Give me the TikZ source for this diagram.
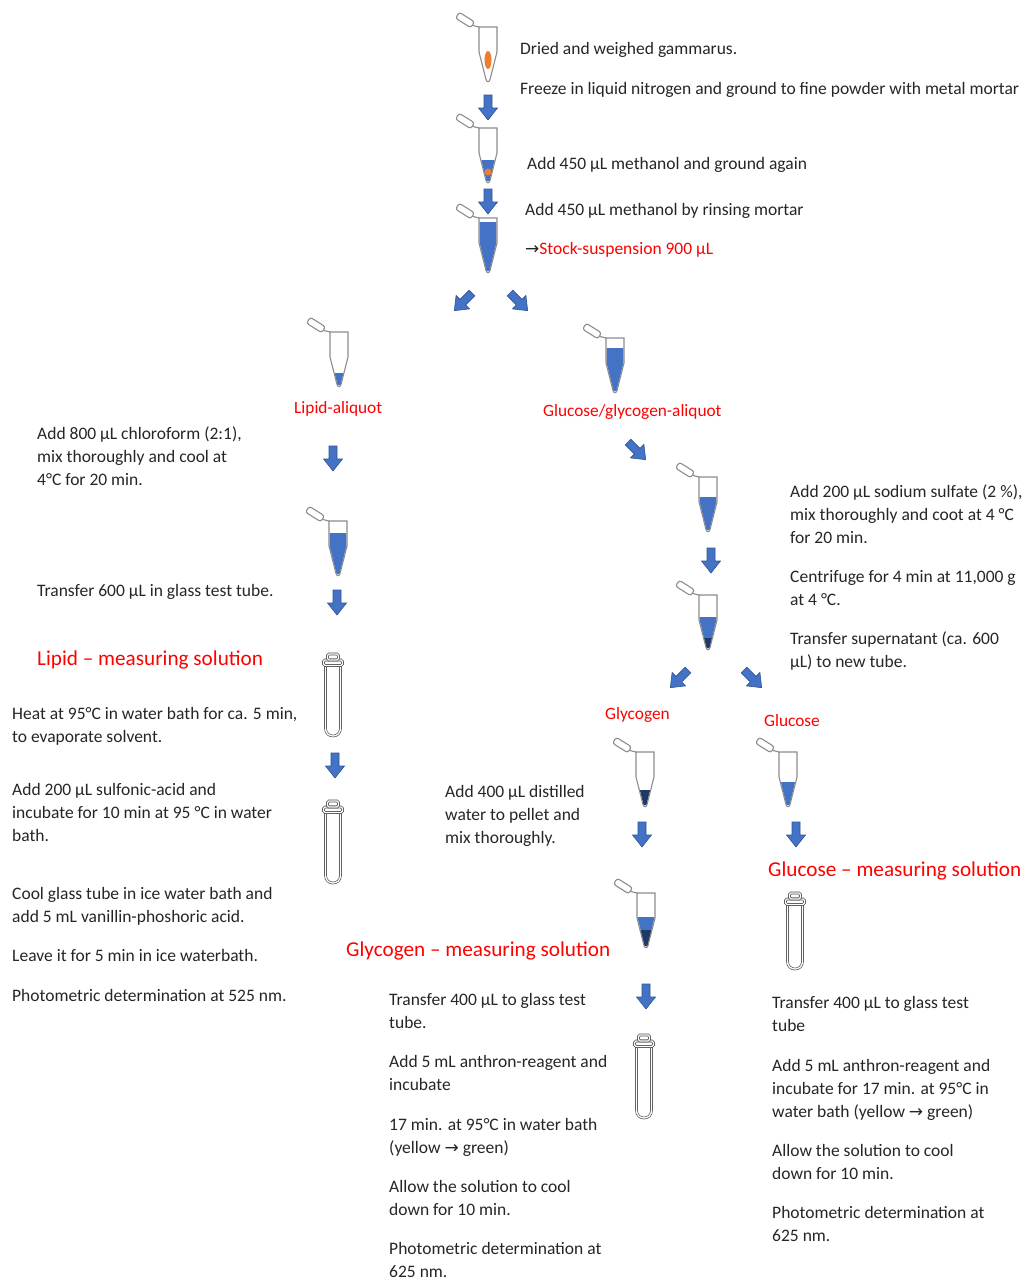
\documentclass[tikz,border=0pt]{standalone}
\usepackage{fontspec}
\setmainfont{Carlito}
\newfontfamily\arrowsym{DejaVu Sans}

\definecolor{liquid}{HTML}{4472C4}
\definecolor{liquidedge}{HTML}{2F5597}
\definecolor{pelletcol}{HTML}{203864}
\definecolor{seedcol}{HTML}{ED7D31}
\definecolor{redtxt}{HTML}{FF0000}
\definecolor{inkcol}{HTML}{262626}

% micro-centrifuge tube: #1 rim centre, #2 liquid level, #3 pellet level, #4 extra content
\newcommand\eppendorf[4]{%
  \begin{scope}[shift={#1}]
    \begin{scope}
      \clip (-8.4,0) -- (-8.4,25) -- (-1.5,53) -- (1.5,53) -- (8.4,25) -- (8.4,0) -- cycle;
      \fill[liquid] (-10,#2) rectangle (10,58);
      \fill[pelletcol] (-10,#3) rectangle (10,58);
    \end{scope}
    #4
    \draw[tubeline] (-9,0) -- (-9,25) -- (-2,52.5) .. controls (-1,55.5) and (1,55.5) .. (2,52.5) -- (9,25) -- (9,0) -- cycle;
    \draw[tubeline] (-9,0) -- (-15,-1.5);
    \draw[tubeline, rounded corners=2.5, rotate around={-32:(-23,-7)}] (-32,-10.5) rectangle (-14,-3.5);
  \end{scope}}

% glass test tube: #1 top centre, #2 length
\newcommand\glasstube[2]{%
  \begin{scope}[shift={#1}]
    \draw[glassline] (-7.5,11.5) -- (-7.5,#2-7.5) .. controls (-7.5,#2+2.5) and (7.5,#2+2.5) .. (7.5,#2-7.5) -- (7.5,11.5);
    \draw[glassline, rounded corners=1.5] (-9.5,6) rectangle (9.5,11.5);
    \draw[glassline, rounded corners=1.5] (-5.5,0) rectangle (5.5,6);
  \end{scope}}

% thick blue block arrow: #1 tail centre, #2 rotation
\newcommand\blockarrow[2]{%
  \fill[liquid, draw=liquidedge, line width=0.6, shift={#1}, rotate=#2]
    (-4,0) -- (4,0) -- (4,13) -- (9.5,13) -- (0,25) -- (-9.5,13) -- (-4,13) -- cycle;}

\newcommand\rarr{{\arrowsym\fontsize{17}{23}\selectfont →}}

\begin{document}
\begin{tikzpicture}[x=1pt,y=-1pt,
  tubeline/.style={draw=black!45, line width=1.1},
  glassline/.style={draw=black!70, line width=0.65, double=white, double distance=1.3},
  txt/.style={anchor=base west, inner sep=0pt, align=left, text=inkcol,
    font=\fontsize{17.5}{23}\selectfont},
  redlabel/.style={txt, text=redtxt, font=\fontsize{17.3}{23}\selectfont},
  redhead/.style={txt, text=redtxt, font=\fontsize{21.2}{23}\selectfont}]

\fill[white] (0,0) rectangle (1032,1282);
\useasboundingbox (0,0) rectangle (1032,1282);

% multi-line labels are placed by the baseline of their last line

% ---------------- common start ----------------
\eppendorf{(488,27)}{60}{60}{\fill[seedcol] (0,33) ellipse[x radius=3.5, y radius=9];}
\blockarrow{(488,95)}{0}
\eppendorf{(488,128)}{32}{60}{\fill[seedcol] (0,44) circle[radius=3.5];}
\blockarrow{(488,189)}{0}
\eppendorf{(488,218)}{4}{60}{}

\node[txt] (dried) at (520,54) {Dried and weighed gammarus.};
\node[txt] (freeze) at (520,94) {Freeze in liquid nitrogen and ground to fine powder with metal mortar};
\node[txt] (meth1) at (527,169) {Add 450 µL methanol and ground again};
\node[txt] (meth2) at (525,215) {Add 450 µL methanol by rinsing mortar};
\node[txt] (stock) at (525,254) {\rarr\textcolor{redtxt}{Stock-suspension 900 µL}};

\blockarrow{(472,293)}{-45}
\blockarrow{(510,293)}{45}

% ---------------- lipid branch ----------------
\eppendorf{(339,332)}{41}{60}{}
\node[redlabel] (lipidaliquot) at (294,413) {Lipid-aliquot};
\node[txt] (chloro) at (37,485) {Add 800 µL chloroform (2:1),\\mix thoroughly and cool at\\4°C for 20 min.};
\blockarrow{(333,446)}{0}
\eppendorf{(338,521)}{12}{60}{}
\node[txt] (transfer600) at (37,596) {Transfer 600 µL in glass test tube.};
\blockarrow{(337,590)}{0}
\node[redhead] (lipidhead) at (37,665) {Lipid – measuring solution};
\glasstube{(333,654)}{82}
\node[txt] (heat) at (12,742) {Heat at 95°C in water bath for ca. 5 min,\\to evaporate solvent.};
\blockarrow{(335,753)}{0}
\glasstube{(333,801)}{82}
\node[txt] (sulfonic) at (12,841) {Add 200 µL sulfonic-acid and\\incubate for 10 min at 95 °C in water\\bath.};
\node[txt] (cool) at (12,922) {Cool glass tube in ice water bath and\\add 5 mL vanillin-phoshoric acid.};
\node[txt] (leave) at (12,961) {Leave it for 5 min in ice waterbath.};
\node[txt] (photo525) at (12,1001) {Photometric determination at 525 nm.};

% ---------------- glucose / glycogen branch ----------------
\eppendorf{(615,338)}{10}{60}{}
\node[redlabel] (glualiquot) at (543,416) {Glucose/glycogen-aliquot};
\blockarrow{(628,442)}{45}
\eppendorf{(708,477)}{20}{60}{}
\node[txt] (sulfate) at (790,543) {Add 200 µL sodium sulfate (2 \%),\\mix thoroughly and coot at 4 °C\\for 20 min.};
\blockarrow{(711,548)}{0}
\eppendorf{(708,595)}{22}{43}{}
\node[txt] (centri) at (790,605) {Centrifuge for 4 min at 11,000 g\\at 4 °C.};
\node[txt] (super) at (790,667) {Transfer supernatant (ca. 600\\µL) to new tube.};
\blockarrow{(688,670)}{-45}
\blockarrow{(744,670)}{45}

% glycogen
\node[redlabel] (glyco) at (605,719) {Glycogen};
\eppendorf{(645,752)}{60}{38}{}
\node[txt] (distilled) at (445,843) {Add 400 µL distilled\\water to pellet and\\mix thoroughly.};
\blockarrow{(642,822)}{0}
\eppendorf{(646,893)}{24}{37}{}
\node[redhead] (glycohead) at (346,956) {Glycogen – measuring solution};
\blockarrow{(646,984)}{0}
\glasstube{(644,1035)}{83}
\node[txt] (gly1) at (389,1028) {Transfer 400 µL to glass test\\tube.};
\node[txt] (gly2) at (389,1090) {Add 5 mL anthron-reagent and\\incubate};
\node[txt] (gly3) at (389,1153) {17 min. at 95°C in water bath\\(yellow \rarr{} green)};
\node[txt] (gly4) at (389,1215) {Allow the solution to cool\\down for 10 min.};
\node[txt] (gly5) at (389,1277) {Photometric determination at\\625 nm.};

% glucose
\node[redlabel] (gluc) at (764,726) {Glucose};
\eppendorf{(788,752)}{30}{60}{}
\blockarrow{(796,822)}{0}
\node[redhead] (gluchead) at (768,876) {Glucose – measuring solution};
\glasstube{(795,893)}{76}
\node[txt] (glu1) at (772,1031) {Transfer 400 µL to glass test\\tube};
\node[txt] (glu2) at (772,1117) {Add 5 mL anthron-reagent and\\incubate for 17 min. at 95°C in\\water bath (yellow \rarr{} green)};
\node[txt] (glu3) at (772,1179) {Allow the solution to cool\\down for 10 min.};
\node[txt] (glu4) at (772,1241) {Photometric determination at\\625 nm.};

\end{tikzpicture}
\end{document}
